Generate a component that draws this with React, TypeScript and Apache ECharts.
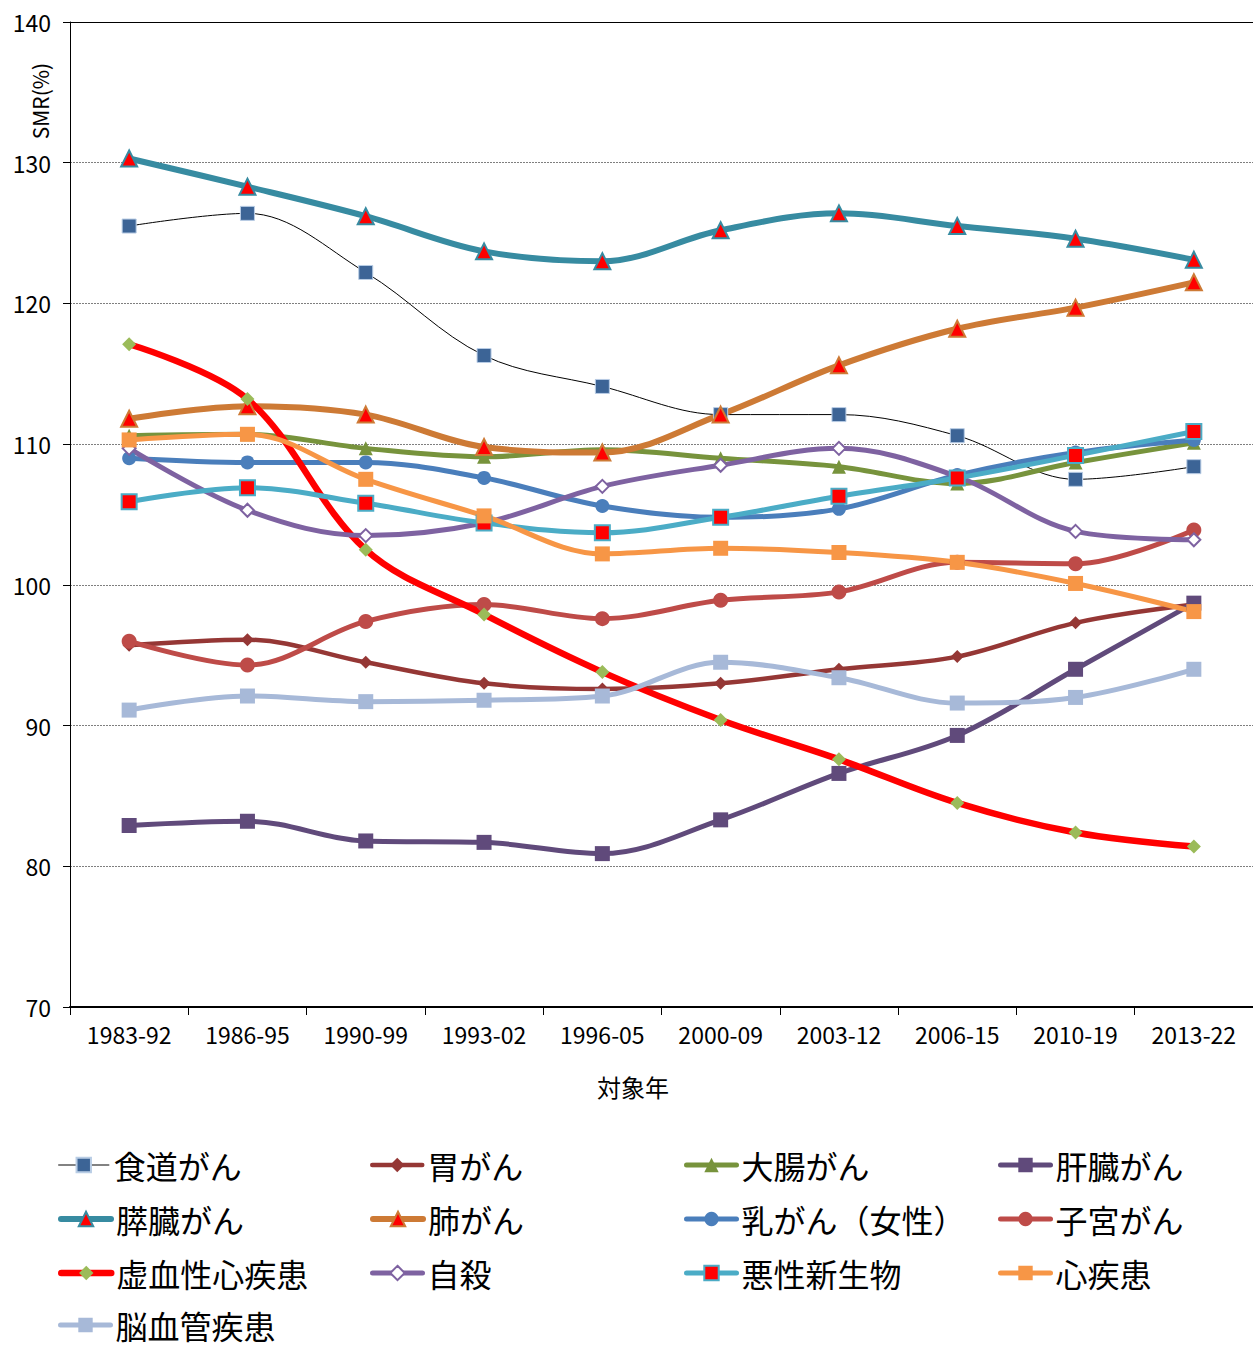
import React, { useEffect, useRef } from "react";
import * as echarts from "echarts";

const categories = ["1983-92", "1986-95", "1990-99", "1993-02", "1996-05", "2000-09", "2003-12", "2006-15", "2010-19", "2013-22"];

const esophagus = [125.5, 126.4, 122.2, 116.3, 114.1, 112.1, 112.1, 110.6, 107.5, 108.4];
const stomach = [95.7, 96.1, 94.5, 93.0, 92.6, 93.0, 94.0, 94.9, 97.3, 98.6];
const colorectal = [110.6, 110.7, 109.7, 109.1, 109.6, 109.0, 108.4, 107.2, 108.7, 110.1];
const liver = [82.9, 83.2, 81.8, 81.7, 80.9, 83.3, 86.6, 89.3, 94.0, 98.7];
const pancreas = [130.3, 128.3, 126.2, 123.7, 123.0, 125.2, 126.4, 125.5, 124.6, 123.1];
const lung = [111.8, 112.7, 112.1, 109.8, 109.4, 112.1, 115.6, 118.2, 119.7, 121.5];
const breast = [109.0, 108.7, 108.7, 107.6, 105.6, 104.8, 105.4, 107.8, 109.4, 110.3];
const uterus = [96.0, 94.3, 97.4, 98.6, 97.6, 98.9, 99.5, 101.6, 101.5, 103.9];
const ihd = [117.1, 113.2, 102.5, 97.9, 93.8, 90.4, 87.6, 84.5, 82.4, 81.4];
const suicide = [109.7, 105.3, 103.5, 104.4, 107.0, 108.5, 109.7, 107.7, 103.8, 103.2];
const neoplasm = [105.9, 106.9, 105.8, 104.4, 103.7, 104.8, 106.3, 107.6, 109.2, 110.9];
const heart = [110.3, 110.7, 107.5, 104.9, 102.2, 102.6, 102.3, 101.6, 100.1, 98.1];
const cerebro = [91.1, 92.1, 91.7, 91.8, 92.1, 94.5, 93.4, 91.6, 92.0, 94.0];

const yTicks = [70, 80, 90, 100, 110, 120, 130, 140];

const FONT = "'Noto Sans CJK JP', 'Noto Sans', sans-serif";

type S = {
  name: string;
  data: number[];
  line: string;
  width: number;
  symbol: string;
  size: number;
  fill: string;
  border?: string;
  borderWidth?: number;
};

const seriesDefs: S[] = [
  { name: "食道がん", data: esophagus, line: "#000000", width: 1, symbol: "rect", size: 14, fill: "#3C6496", border: "#B9CDE5", borderWidth: 1 },
  { name: "胃がん", data: stomach, line: "#953735", width: 4.5, symbol: "diamond", size: 13, fill: "#953735" },
  { name: "大腸がん", data: colorectal, line: "#77933C", width: 5, symbol: "triangle", size: 14, fill: "#77933C" },
  { name: "肝臓がん", data: liver, line: "#604A7B", width: 5, symbol: "rect", size: 15, fill: "#604A7B" },
  { name: "膵臓がん", data: pancreas, line: "#378BA1", width: 6, symbol: "triangle", size: 16, fill: "#FF0000", border: "#378BA1", borderWidth: 2 },
  { name: "肺がん", data: lung, line: "#CD7A35", width: 6, symbol: "triangle", size: 16, fill: "#FF0000", border: "#CD7A35", borderWidth: 2 },
  { name: "乳がん（女性）", data: breast, line: "#4A7EBB", width: 5, symbol: "circle", size: 14, fill: "#4A7EBB" },
  { name: "子宮がん", data: uterus, line: "#BE4B48", width: 5, symbol: "circle", size: 15, fill: "#BE4B48" },
  { name: "虚血性心疾患", data: ihd, line: "#FF0000", width: 6.5, symbol: "diamond", size: 14, fill: "#9BBB59" },
  { name: "自殺", data: suicide, line: "#7E62A1", width: 5, symbol: "diamond", size: 13, fill: "#FFFFFF", border: "#7E62A1", borderWidth: 2 },
  { name: "悪性新生物", data: neoplasm, line: "#4BACC6", width: 5, symbol: "rect", size: 15, fill: "#FF0000", border: "#4BACC6", borderWidth: 2 },
  { name: "心疾患", data: heart, line: "#F79646", width: 5, symbol: "rect", size: 15, fill: "#F79646" },
  { name: "脳血管疾患", data: cerebro, line: "#A7B9D8", width: 5, symbol: "rect", size: 15, fill: "#A7B9D8" },
];

// legend layout: row-major order, 4 columns
const legendOrder = [
  "食道がん", "胃がん", "大腸がん", "肝臓がん",
  "膵臓がん", "肺がん", "乳がん（女性）", "子宮がん",
  "虚血性心疾患", "自殺", "悪性新生物", "心疾患",
  "脳血管疾患",
];
const legendLefts = [58, 370, 684, 998];
const legendRowCenters = [1164, 1218, 1272, 1324];

export default function App() {
  const ref = useRef<HTMLDivElement>(null);
  useEffect(() => {
    if (!ref.current) return;
    const chart = echarts.init(ref.current, undefined, { renderer: "svg" });
    const legends = legendOrder.map((name, i) => {
      const s = seriesDefs.find((d) => d.name === name)!;
      const col = i % 4;
      const row = Math.floor(i / 4);
      return {
        data: [
          {
            name,
            lineStyle: { color: s.line === "#000000" ? "#595959" : s.line, width: s.width === 1 ? 1.5 : s.width, cap: "round" },
          },
        ],
        orient: "horizontal",
        left: legendLefts[col],
        top: legendRowCenters[row] - 15,
        itemWidth: 50,
        itemHeight: 18,
        padding: 0,
        textStyle: { fontSize: 32, color: "#000", fontFamily: FONT, lineHeight: 30 },
        selectedMode: false,
      };
    });
    const option: any = {
      animation: false,
      backgroundColor: "#ffffff",
      textStyle: { fontFamily: FONT },
      grid: { left: 70, right: 0, top: 22, bottom: 340, containLabel: false },
      xAxis: [
        {
          type: "category",
          data: categories,
          boundaryGap: true,
          axisLine: { lineStyle: { color: "#000", width: 2 } },
          axisTick: { show: true, alignWithLabel: false, length: 8, lineStyle: { color: "#000" } },
          axisLabel: { color: "#000", fontSize: 23, margin: 15, fontFamily: FONT, interval: 0 },
        },
        {
          type: "category",
          data: categories,
          position: "top",
          axisLine: { show: true, lineStyle: { color: "#000", width: 1 } },
          axisTick: { show: false },
          axisLabel: { show: false },
        },
      ],
      yAxis: {
        type: "value",
        min: yTicks[0],
        max: yTicks[yTicks.length - 1],
        interval: 10,
        axisLine: { show: true, lineStyle: { color: "#000", width: 1 } },
        axisTick: { show: true, length: 7, lineStyle: { color: "#000" } },
        axisLabel: { color: "#000", fontSize: 23, margin: 19, fontFamily: FONT },
        splitLine: { show: true, lineStyle: { color: "#7F7F7F", type: [2, 1], width: 1 } },
      },
      legend: legends,
      graphic: [
        {
          type: "text",
          x: 40,
          y: 101,
          rotation: Math.PI / 2,
          style: { text: "SMR(%)", fontSize: 21, fill: "#000", fontFamily: FONT, textAlign: "center", textVerticalAlign: "middle" },
        },
        {
          type: "text",
          x: 633,
          y: 1086,
          style: { text: "対象年", fontSize: 24, fill: "#000", fontFamily: FONT, textAlign: "center", textVerticalAlign: "middle" },
        },
      ],
      series: seriesDefs.map((s) => ({
        name: s.name,
        type: "line",
        data: s.data,
        smooth: 0.35,
        symbol: s.symbol,
        symbolSize: s.size,
        showSymbol: true,
        lineStyle: { color: s.line, width: s.width },
        itemStyle: { color: s.fill, borderColor: s.border || s.fill, borderWidth: s.borderWidth || 0 },
        emphasis: { disabled: true },
      })),
    };
    chart.setOption(option);
    return () => chart.dispose();
  }, []);
  return <div ref={ref} style={{ position: "absolute", left: 0, top: 0, width: 1253, height: 1347 }} />;
}
